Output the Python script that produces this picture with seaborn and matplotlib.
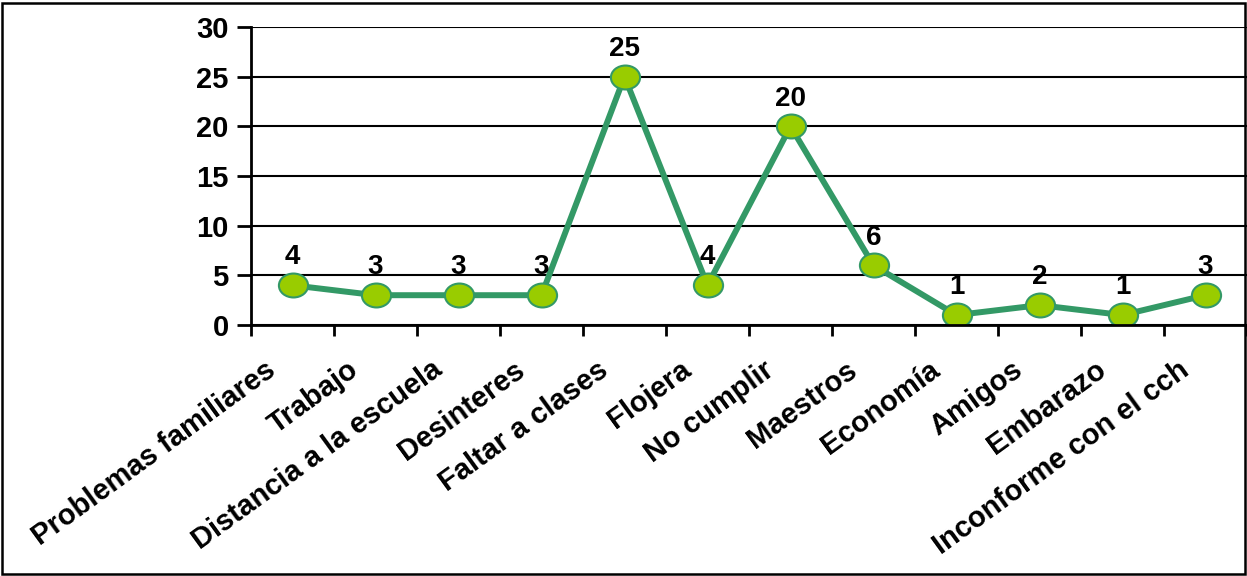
import numpy as np
import pandas as pd
import matplotlib
matplotlib.use("Agg")
import matplotlib.pyplot as plt
import seaborn as sns
from matplotlib.path import Path
from matplotlib.patches import Rectangle
from matplotlib.transforms import ScaledTranslation

# data
categories = ["Problemas familiares", "Trabajo", "Distancia a la escuela", "Desinteres",
              "Faltar a clases", "Flojera", "No cumplir", "Maestros", "Economía",
              "Amigos", "Embarazo", "Inconforme con el cch"]
counts = [4, 3, 3, 3, 25, 4, 20, 6, 1, 2, 1, 3]
y_ticks = [0, 5, 10, 15, 20, 25, 30]

df = pd.DataFrame({"motivo": categories, "n": counts})

sns.set_style("white")
plt.rcParams["font.family"] = ["Liberation Sans", "DejaVu Sans"]
plt.rcParams["font.weight"] = "bold"
plt.rcParams["text.color"] = "black"
plt.rcParams["xtick.color"] = "black"
plt.rcParams["ytick.color"] = "black"

line_col = "#339966"
fill_col = "#99cc00"

# slightly flattened circle, like the excel marker
circ = Path.unit_circle()
ellipse = Path(circ.vertices * np.array([1.0, 0.82]), circ.codes)

fig = plt.figure(figsize=(12.47, 5.76), dpi=100)
ax = fig.add_axes([251 / 1247, 1 - 325 / 576, 1 - 251 / 1247, (325 - 27) / 576])

sns.lineplot(data=df, x="motivo", y="n", sort=False, ax=ax, color=line_col,
             linewidth=4.3, marker=ellipse, markersize=21,
             markerfacecolor=fill_col, markeredgecolor=line_col, markeredgewidth=1.5)

# value labels above the points
for i, v in enumerate(counts):
    ax.annotate(str(v), (i, v), xytext=(0, 20), textcoords="offset points",
                ha="center", va="center", fontsize=20, fontweight="bold", color="black")

ax.set_xlim(-0.5, (1247 - 251) / 83.5 - 0.5)
ax.set_ylim(0, 30)
ax.set_yticks(y_ticks)
ax.set_yticklabels([str(t) for t in y_ticks], fontsize=21, fontweight="bold")
ax.set_xlabel("")
ax.set_ylabel("")

ax.set_xticks(range(len(categories)))
ax.set_xticklabels(categories, rotation=36, ha="right", va="top",
                   rotation_mode="anchor", fontsize=21, fontweight="bold")
ax.set_xticks(np.arange(-0.5, len(categories), 1.0), minor=True)
ax.tick_params(axis="x", which="major", length=0, pad=22)
ax.tick_params(axis="x", which="minor", length=8, width=2, direction="out", color="black")
ax.tick_params(axis="y", length=10, width=2, direction="out", color="black", pad=6)
ax.tick_params(axis="both", which="both", bottom=True, left=True)

off = ScaledTranslation(-28 / 100, 0, fig.dpi_scale_trans)
for lbl in ax.get_xticklabels():
    lbl.set_transform(lbl.get_transform() + off)

ax.grid(axis="y", color="black", linewidth=1.5)
ax.set_axisbelow(True)
for s in ["top", "right"]:
    ax.spines[s].set_visible(False)
for s in ["left", "bottom"]:
    ax.spines[s].set_color("black")
    ax.spines[s].set_linewidth(2)

# outer chart frame
fig.patches.append(Rectangle((2 / 1247, 2 / 576), 1243 / 1247, 571 / 576, fill=False,
                             edgecolor="black", linewidth=1.8, transform=fig.transFigure,
                             figure=fig))

fig.savefig("out.png", dpi=100)
